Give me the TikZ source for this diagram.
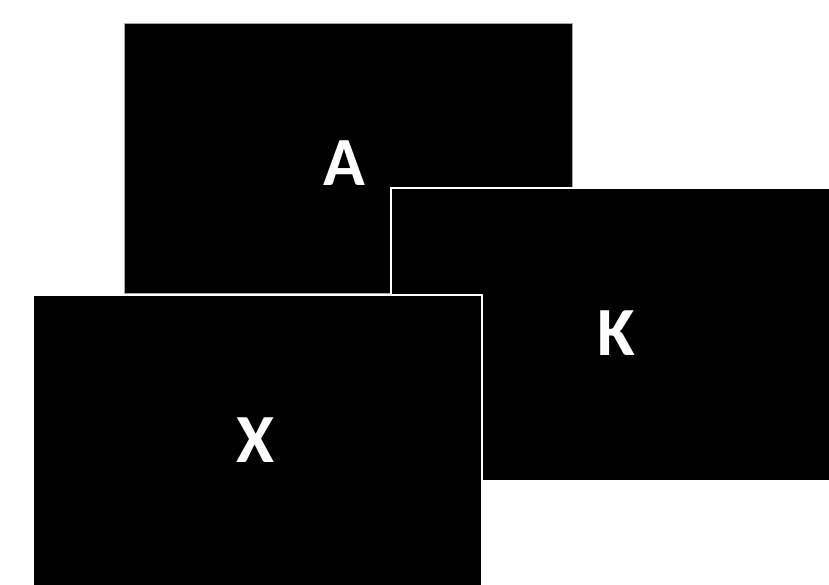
\documentclass[tikz,border=0pt]{standalone}
\usepackage{fontspec}
\setmainfont{Carlito}
\begin{document}
\begin{tikzpicture}[x=1pt,y=-1pt,
  panel/.style={fill=black,draw=white,line width=2pt},
  back/.style={fill=black,draw=gray!70,line width=0.8pt},
  lbl/.style={text=white,font=\fontsize{69}{69}\selectfont\bfseries,anchor=base,inner sep=0pt}]
\useasboundingbox (0,0) rectangle (829,585);
\draw[back] (124,23) rectangle (572,293);
\draw[panel] (391,188) rectangle (835,481);
\draw[panel] (33,295) rectangle (482,592);
\node[lbl] (a) at (344,186) {A};
\node[lbl] (k) at (616,355) {K};
\node[lbl] (x) at (255,462) {X};
\end{tikzpicture}
\end{document}
